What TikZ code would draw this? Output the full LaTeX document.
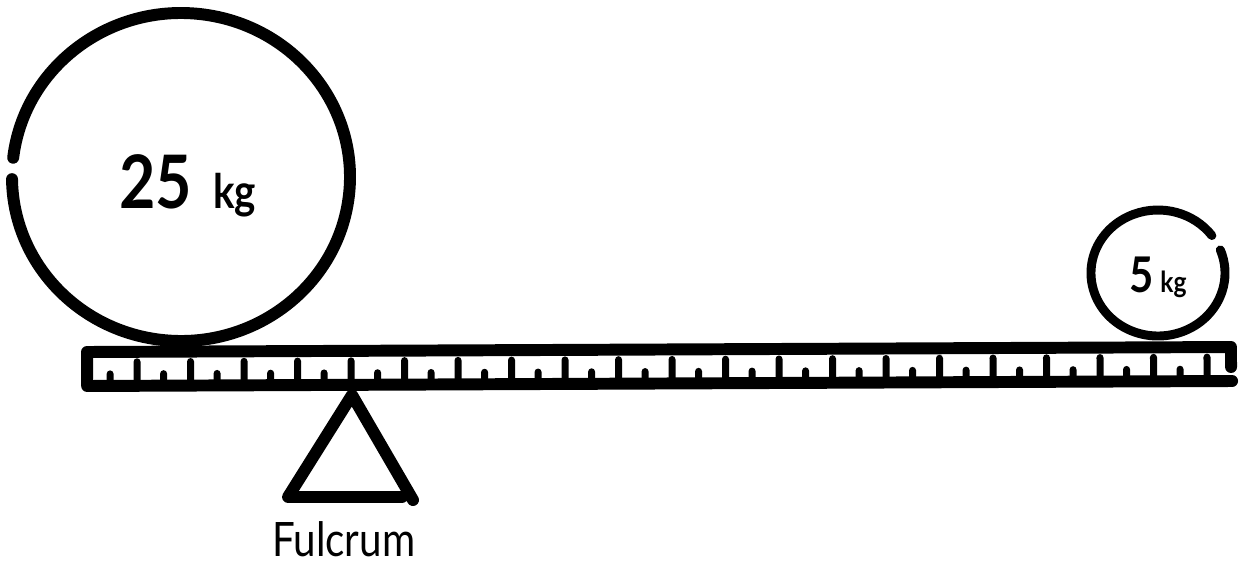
\documentclass[tikz,border=0pt]{standalone}
\usepackage{fontspec}
\setsansfont[FakeStretch=0.85]{Lato}
\usepackage{tikz}

\begin{document}
\begin{tikzpicture}[x=0.02cm, y=-0.02cm, line cap=round, line join=round,
  ink/.style={line width=6.8pt},
  thinink/.style={line width=5.1pt},
  tickmark/.style={line width=4pt},
  label/.style={anchor=base west, inner sep=0pt}]
\useasboundingbox (0,0) rectangle (1248,565);

\coordinate (bigc) at (181,177);
\coordinate (smallc) at (1158,273);

\draw[ink] (bigc) ++(186.75:169 and 164) arc[start angle=186.75, end angle=539.25, x radius=169, y radius=164];
\draw[thinink] (smallc) ++(-21.5:67 and 63) arc[start angle=-21.5, end angle=323.5, x radius=67, y radius=63];

\begin{scope}[rotate around={0.25:(87,352)}]
\draw[ink] (1231,372) -- (1231,352) -- (87,352) -- (87,386) -- (1232,386);
\foreach \k in {0,...,20} {
  \draw[tickmark] (137+53.5*\k,386) -- (137+53.5*\k,362);
  \draw[tickmark] (110+53.5*\k,386) -- (110+53.5*\k,374);
}
\end{scope}

\draw[ink] (413,500) -- (352,395) -- (288,497) -- (402,497);

\node[label, font=\sffamily\bfseries\fontsize{42}{42}\selectfont] (bigmass) at (119,208) {25};
\node[label, font=\sffamily\bfseries\fontsize{27}{27}\selectfont] (bigunit) at (213,208) {kg};
\node[label, font=\sffamily\bfseries\fontsize{28}{28}\selectfont] (smallmass) at (1129,292) {5};
\node[label, font=\sffamily\bfseries\fontsize{16.5}{16.5}\selectfont] (smallunit) at (1160,292) {kg};
\node[label, font=\sffamily\fontsize{27}{27}\selectfont] (fulcrum) at (272,556) {Fulcrum};
\end{tikzpicture}
\end{document}
